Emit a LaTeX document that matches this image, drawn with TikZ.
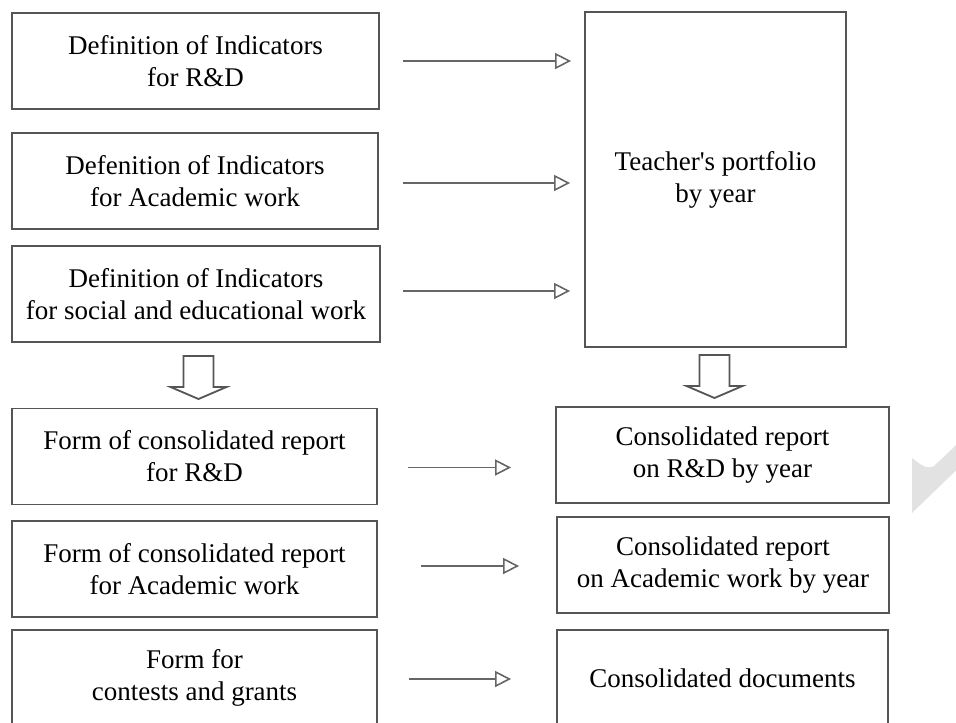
\documentclass[tikz,border=0pt]{standalone}
\usepackage{fontspec}
\setmainfont{Liberation Serif}
\usetikzlibrary{arrows.meta}
\definecolor{boxgray}{HTML}{555555}
\definecolor{arrowgray}{HTML}{666666}
\definecolor{wmgray}{HTML}{E2E2E2}
\begin{document}
\begin{tikzpicture}[x=1pt,y=-1pt,
  box/.style={draw=boxgray, line width=1.8pt, minimum width=#1, minimum height=96pt,
    inner sep=0pt, align=center, font=\fontsize{27}{32}\selectfont, text=black},
  flow/.style={draw=arrowgray, line width=1.8pt,
    -{Triangle[open, length=16pt, width=16pt, line width=1.6pt]}},
  bigarrow/.style={draw=boxgray, line width=1.8pt, fill=white, line join=miter},
  downarrow/.pic={\draw[bigarrow] (-15,0) -- (15,0) -- (15,31) -- (28,31) -- (0,43)
    -- (-28,31) -- (-15,31) -- cycle;}
]
\useasboundingbox (0,0) rectangle (956,723);
\clip (0,0) rectangle (956,723);

% watermark fragment
\fill[wmgray] (912,458) .. controls (920,464) and (926,470) .. (934,466)
  -- (970,432) -- (970,457) -- (912,513) -- cycle;

% left column
\node[box=367pt] (d1) at (195.5,61) {Definition of Indicators\\for R\&D};
\node[box=366pt] (d2) at (195,181) {Defenition of Indicators\\for Academic work};
\node[box=368pt] (d3) at (196,294) {Definition of Indicators\\for social and educational work};
\node[box=365pt] (f1) at (194.5,456.5) {Form of consolidated report\\for R\&D};
\node[box=365pt] (f2) at (194.5,569) {Form of consolidated report\\for Academic work};
\node[box=365pt] (f3) at (194.5,678) {Form for\\contests and grants};

% right column
\node[box=261pt, minimum height=335pt] (tp) at (715.5,179.5) {Teacher\textquotesingle s portfolio\\by year};
\node[box=333pt] (c1) at (722.5,455) {Consolidated report\\on R\&D by year};
\node[box=332pt] (c2) at (723,565) {Consolidated report\\on Academic work by year};
\node[box=331pt] (c3) at (722.5,678) {Consolidated documents};

% arrows to portfolio
\draw[flow, shorten <=23pt, shorten >=13pt] (d1.east) -- (d1.east -| tp.west);
\draw[flow, shorten <=24pt, shorten >=14pt] ([yshift=-2pt]d2.east) -- ([yshift=-2pt]d2.east -| tp.west);
\draw[flow, shorten <=22pt, shorten >=14pt] ([yshift=3pt]d3.east) -- ([yshift=3pt]d3.east -| tp.west);

% arrows to consolidated
\draw[flow, shorten <=30pt, shorten >=44pt] ([yshift=-11pt]f1.east) -- ([yshift=-11pt]f1.east -| c1.west);
\draw[flow, shorten <=43pt, shorten >=37pt] ([yshift=3pt]f2.east) -- ([yshift=3pt]f2.east -| c2.west);
\draw[flow, shorten <=31pt, shorten >=45pt] ([yshift=-1pt]f3.east) -- ([yshift=-1pt]f3.east -| c3.west);

% hollow down arrows
\pic at (198.5,356) {downarrow};
\pic at (714.5,355) {downarrow};
\end{tikzpicture}
\end{document}
